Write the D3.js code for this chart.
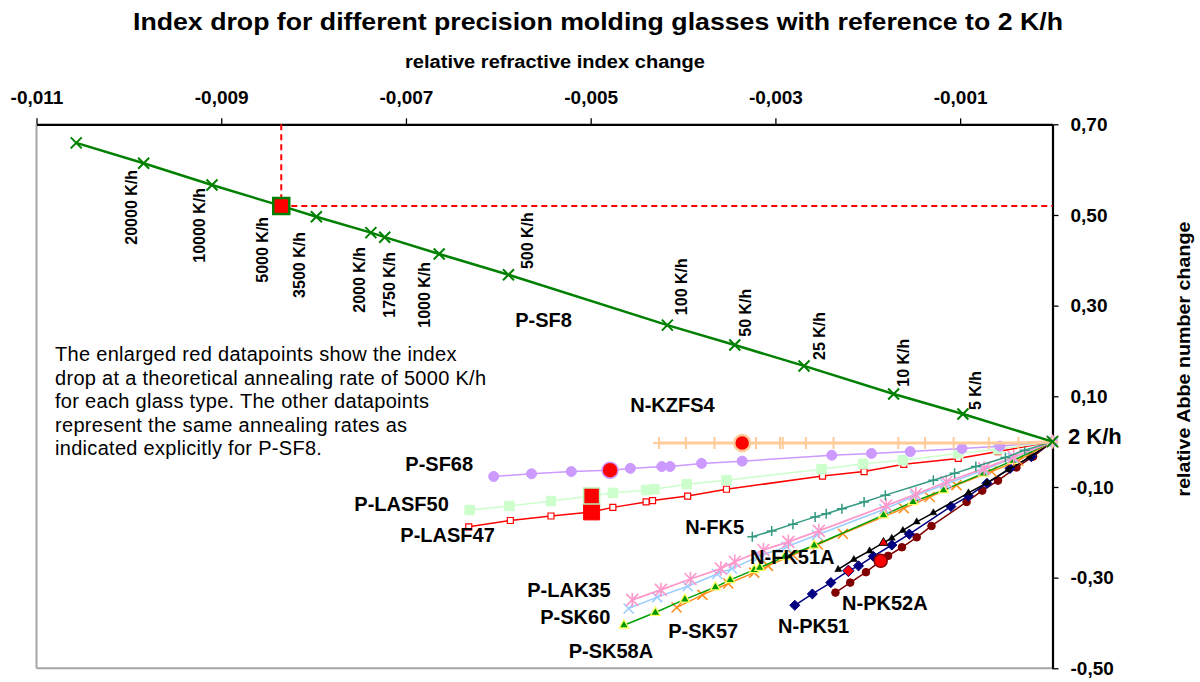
<!DOCTYPE html>
<html><head><meta charset="utf-8">
<script src="https://cdn.jsdelivr.net/npm/d3@7"></script>
<style>
body{margin:0;background:#fff}
svg{display:block}
text{font-family:"Liberation Sans",Arial,Helvetica,sans-serif}
</style>
</head><body>
<svg id="c" width="1200" height="682"></svg>
<script>
// ---------------- DATA ----------------
const xTicks = [-0.011, -0.009, -0.007, -0.005, -0.003, -0.001];
const yTicks = [0.7, 0.5, 0.3, 0.1, -0.1, -0.3, -0.5];
const rateLabels = ["", "20000 K/h", "10000 K/h", "5000 K/h", "3500 K/h", "2000 K/h", "1750 K/h", "1000 K/h", "500 K/h", "100 K/h", "50 K/h", "25 K/h", "10 K/h", "5 K/h", ""];

const pSF8_dn = [-0.01057,-0.00984,-0.00910,-0.00835,-0.00797,-0.00738,-0.00723,-0.00664,-0.00589,-0.00417,-0.00344,-0.00269,-0.00172,-0.00097,0];
const pSF8_dv = [0.659,0.614,0.566,0.520,0.496,0.461,0.451,0.414,0.368,0.257,0.213,0.167,0.105,0.061,0];

const nKZFS4_dn = [-0.00426,-0.00397,-0.00366,-0.00336,-0.00321,-0.00295,-0.00292,-0.00267,-0.00237,-0.00167,-0.00138,-0.00107,-0.00069,-0.00037,0];
const nKZFS4_dv = [-0.003,-0.003,-0.003,-0.003,-0.003,-0.003,-0.003,-0.003,-0.003,-0.003,-0.003,-0.003,-0.003,-0.003,0];

const pSF68_dn = [-0.00605,-0.00564,-0.00521,-0.00479,-0.00457,-0.00423,-0.00414,-0.00380,-0.00336,-0.00239,-0.00196,-0.00154,-0.00098,-0.00057,0];
const pSF68_dv = [-0.077,-0.071,-0.066,-0.063,-0.059,-0.055,-0.055,-0.048,-0.043,-0.030,-0.026,-0.022,-0.015,-0.010,0];

const pLASF50_dn = [-0.00631,-0.00588,-0.00543,-0.00499,-0.00476,-0.00440,-0.00431,-0.00396,-0.00353,-0.00250,-0.00205,-0.00162,-0.00102,-0.00059,0];
const pLASF50_dv = [-0.151,-0.142,-0.131,-0.120,-0.113,-0.107,-0.105,-0.094,-0.085,-0.061,-0.049,-0.041,-0.026,-0.017,0];

const pLASF47_dn = [-0.00632,-0.00587,-0.00543,-0.00499,-0.00476,-0.00440,-0.00433,-0.00395,-0.00353,-0.00249,-0.00204,-0.00161,-0.00102,-0.00059,0];
const pLASF47_dv = [-0.188,-0.174,-0.164,-0.155,-0.145,-0.133,-0.130,-0.120,-0.105,-0.076,-0.066,-0.050,-0.037,-0.022,0];

const nFK5_dn = [-0.00325,-0.00304,-0.00281,-0.00257,-0.00245,-0.00228,-0.00204,-0.00181,-0.00129,-0.00106,-0.00083,-0.00051,-0.00030,0];
const nFK5_dv = [-0.210,-0.197,-0.182,-0.166,-0.159,-0.148,-0.133,-0.118,-0.085,-0.070,-0.055,-0.035,-0.019,0];

const pLAK35_dn = [-0.00455,-0.00424,-0.00392,-0.00359,-0.00344,-0.00313,-0.00286,-0.00253,-0.00180,-0.00148,-0.00115,-0.00074,-0.00042,0];
const pLAK35_dv = [-0.349,-0.327,-0.303,-0.280,-0.265,-0.239,-0.221,-0.197,-0.141,-0.116,-0.089,-0.059,-0.034,0];

const pSK60_dn = [-0.00459,-0.00428,-0.00395,-0.00363,-0.00347,-0.00317,-0.00288,-0.00255,-0.00182,-0.00149,-0.00116,-0.00075,-0.00043,0];
const pSK60_dv = [-0.368,-0.343,-0.319,-0.292,-0.280,-0.252,-0.232,-0.206,-0.149,-0.120,-0.094,-0.063,-0.036,0];

const pSK58A_dn = [-0.00464,-0.00430,-0.00398,-0.00365,-0.00349,-0.00323,-0.00317,-0.00290,-0.00258,-0.00183,-0.00151,-0.00118,-0.00075,-0.00043,0];
const pSK58A_dv = [-0.405,-0.377,-0.348,-0.321,-0.305,-0.283,-0.278,-0.254,-0.229,-0.162,-0.133,-0.107,-0.070,-0.042,0];

const pSK57_dn = [-0.00407,-0.00379,-0.00351,-0.00323,-0.00308,-0.00281,-0.00254,-0.00227,-0.00161,-0.00133,-0.00104,-0.00066,-0.00037,0];
const pSK57_dv = [-0.366,-0.338,-0.313,-0.289,-0.274,-0.250,-0.227,-0.203,-0.147,-0.122,-0.096,-0.066,-0.042,0];

const nFK51A_dn = [-0.00232,-0.00215,-0.00198,-0.00183,-0.00174,-0.00162,-0.00147,-0.00129,-0.00091,-0.00071,-0.00048,-0.00025,0];
const nFK51A_dv = [-0.282,-0.260,-0.241,-0.223,-0.213,-0.196,-0.177,-0.157,-0.113,-0.091,-0.062,-0.034,0];

const nPK51_dn = [-0.00279,-0.00260,-0.00240,-0.00221,-0.00210,-0.00194,-0.00174,-0.00155,-0.00110,-0.00091,-0.00071,-0.00046,-0.00023,0];
const nPK51_dv = [-0.361,-0.336,-0.311,-0.285,-0.274,-0.253,-0.228,-0.204,-0.143,-0.120,-0.092,-0.059,-0.033,0];

const nPK52A_dn = [-0.00235,-0.00219,-0.00202,-0.00186,-0.00178,-0.00163,-0.00147,-0.00131,-0.00093,-0.00076,-0.00059,-0.00039,-0.00021,0];
const nPK52A_dv = [-0.333,-0.311,-0.288,-0.263,-0.252,-0.233,-0.211,-0.186,-0.133,-0.108,-0.086,-0.057,-0.033,0];

// glass names and label anchors (data units)
const glassNames = ["P-SF8","N-KZFS4","P-SF68","P-LASF50","P-LASF47","N-FK5","N-FK51A","P-LAK35","P-SK60","P-SK58A","P-SK57","N-PK51","N-PK52A"];
const labelAtX = [-0.005817,-0.004572,-0.007007,-0.007559,-0.007061,-0.003977,-0.003274,-0.005687,-0.005546,-0.005238,-0.004161,-0.002971,-0.002278];
const labelAtY = [0.253,0.065,-0.064,-0.152,-0.2215,-0.204,-0.271,-0.343,-0.402,-0.477,-0.433,-0.422,-0.3715];

const noteLines = ["The enlarged red datapoints show the index","drop at a theoretical annealing rate of 5000 K/h","for each glass type. The other datapoints","represent the same annealing rates as","indicated explicitly for P-SF8."];

// ---------------- LAYOUT ----------------
const svg = d3.select("#c");
const L = 36.5, R = 1052.5, T = 124.3, B = 668.3;
const x = d3.scaleLinear().domain([-0.011, 0]).range([L, R]);
const y = d3.scaleLinear().domain([-0.5, 0.7]).range([B, T]);
const loc = d3.formatLocale({decimal:",", thousands:".", grouping:[3], currency:["",""], minus:"-"});
const fx = loc.format(".3f"), fy = loc.format(".2f");

// frame (gray left / bottom)
svg.append("line").attr("x1",L).attr("x2",L).attr("y1",T).attr("y2",B).attr("stroke","#a6a6a6").attr("stroke-width",2);
svg.append("line").attr("x1",L).attr("x2",R).attr("y1",B).attr("y2",B).attr("stroke","#a6a6a6").attr("stroke-width",2);

// top axis
const gx = svg.append("g").attr("transform",`translate(0,${T})`)
  .call(d3.axisTop(x).tickValues(xTicks).tickFormat(fx).tickSizeInner(6).tickSizeOuter(0).tickPadding(14));
gx.select(".domain").attr("stroke","#000").attr("stroke-width",2.2);
gx.selectAll(".tick line").attr("stroke","#000").attr("stroke-width",1.3);
gx.selectAll(".tick text").attr("font-size",19).attr("font-weight","bold").attr("fill","#000")
  .attr("font-family",'"Liberation Sans",Arial,sans-serif');

// right axis
const gy = svg.append("g").attr("transform",`translate(${R},0)`)
  .call(d3.axisRight(y).tickValues(yTicks).tickFormat(fy).tickSizeInner(6).tickSizeOuter(0).tickPadding(12));
gy.select(".domain").attr("stroke","#000").attr("stroke-width",2.2);
gy.selectAll(".tick line").attr("stroke","#000").attr("stroke-width",1.3);
gy.selectAll(".tick text").attr("font-size",19).attr("font-weight","bold").attr("fill","#000")
  .attr("font-family",'"Liberation Sans",Arial,sans-serif');

// titles
svg.append("text").attr("x",598).attr("y",30).attr("text-anchor","middle")
  .attr("font-size",24).attr("font-weight","bold").attr("textLength",930).attr("lengthAdjust","spacingAndGlyphs")
  .text("Index drop for different precision molding glasses with reference to 2 K/h");
svg.append("text").attr("x",555).attr("y",68).attr("text-anchor","middle")
  .attr("font-size",18).attr("font-weight","bold").attr("textLength",300).attr("lengthAdjust","spacingAndGlyphs")
  .text("relative refractive index change");
svg.append("text").attr("transform","translate(1190,359) rotate(-90)").attr("text-anchor","middle")
  .attr("font-size",18).attr("font-weight","bold").attr("textLength",275).attr("lengthAdjust","spacingAndGlyphs")
  .text("relative Abbe number change");

// annotation
const note = svg.append("text").attr("x",55).attr("y",361).attr("font-size",20).attr("letter-spacing",0.3);
noteLines.forEach((t,i)=> note.append("tspan").attr("x",55).attr("dy", i===0?0:23.5).text(t));

// red dashed crosshair at 5000 K/h on P-SF8
const hx = x(pSF8_dn[3]), hy = y(pSF8_dv[3]);
svg.append("line").attr("x1",hx).attr("x2",hx).attr("y1",T).attr("y2",hy).attr("stroke","#ff0000").attr("stroke-width",2).attr("stroke-dasharray","6,4");
svg.append("line").attr("x1",hx).attr("x2",R).attr("y1",hy).attr("y2",hy).attr("stroke","#ff0000").attr("stroke-width",2).attr("stroke-dasharray","6,4");

// ---------------- SERIES ----------------
const series = [
  {dn:nPK52A_dn, dv:nPK52A_dv, color:"#800000", lw:1.5, m:"circle", ms:3.8, fill:"#800000", stroke:"#800000", sw:1, hl:{shape:"circle", s:6.5, stroke:"#800000", sw:1.5}},
  {dn:nPK51_dn, dv:nPK51_dv, color:"#000080", lw:1.5, m:"diamond", ms:7, fill:"#000080", stroke:"#000080", sw:1, hl:{shape:"diamond", s:8, stroke:"#000080", sw:1}},
  {dn:nFK51A_dn, dv:nFK51A_dv, color:"#000000", lw:1.5, m:"triangle", ms:7, fill:"#000000", stroke:"#000000", sw:0.5, hl:{shape:"triangle", s:9, stroke:"#000000", sw:1}},
  {dn:pSK57_dn, dv:pSK57_dv, color:"#ff8c1a", lw:1.5, m:"x", ms:5, fill:"none", stroke:"#ff8c1a", sw:1.5},
  {dn:pSK58A_dn, dv:pSK58A_dv, color:"#00a000", lw:1.5, m:"triangle", ms:9.5, fill:"#009900", stroke:"#ffff66", sw:1.3},
  {dn:pSK60_dn, dv:pSK60_dv, color:"#99ccff", lw:1.5, m:"x", ms:5, fill:"none", stroke:"#99ccff", sw:1.5},
  {dn:pLAK35_dn, dv:pLAK35_dv, color:"#ff99cc", lw:1.8, m:"asterisk", ms:6, fill:"none", stroke:"#ff99cc", sw:1.6},
  {dn:nFK5_dn, dv:nFK5_dv, color:"#339980", lw:1.5, m:"plus", ms:5, fill:"none", stroke:"#339980", sw:1.5},
  {dn:pLASF47_dn, dv:pLASF47_dv, color:"#ff0000", lw:1.5, m:"square", ms:6, fill:"#ffffff", stroke:"#ff0000", sw:1.2, hl:{shape:"square", s:16, stroke:"#ff0000", sw:1}},
  {dn:pLASF50_dn, dv:pLASF50_dv, color:"#ccffcc", lw:1.5, m:"square", ms:9.5, fill:"#ccffcc", stroke:"#ccffcc", sw:1, hl:{shape:"square", s:16, stroke:"#b8f0b8", sw:1.5}},
  {dn:pSF68_dn, dv:pSF68_dv, color:"#cc99ff", lw:1.5, m:"circle", ms:5, fill:"#cc99ff", stroke:"#cc99ff", sw:1, hl:{shape:"circle", s:8, stroke:"#cc99ff", sw:1.5}},
  {dn:nKZFS4_dn, dv:nKZFS4_dv, color:"#ffcc99", lw:3, m:"plusTall", ms:6, fill:"none", stroke:"#ffcc99", sw:2, hl:{shape:"circle", s:8, stroke:"#ffcc99", sw:2.5}},
  {dn:pSF8_dn, dv:pSF8_dv, color:"#008000", lw:2.5, m:"x", ms:5.5, fill:"none", stroke:"#008000", sw:2, hl:{shape:"square", s:16, stroke:"#008000", sw:2.5}}
];

function markerPath(shape, s){
  switch(shape){
    case "x": return `M${-s},${-s}L${s},${s}M${-s},${s}L${s},${-s}`;
    case "plus": return `M${-s},0L${s},0M0,${-s}L0,${s}`;
    case "plusTall": return `M${-s},0L${s},0M0,${-s}L0,${s}`;
    case "asterisk": return `M${-s},${-s}L${s},${s}M${-s},${s}L${s},${-s}M0,${-s*1.2}L0,${s*1.2}`;
    case "circle": return d3.symbol(d3.symbolCircle, Math.PI*s*s)();
    case "square": return d3.symbol(d3.symbolSquare, s*s)();
    case "triangle": return d3.symbol(d3.symbolTriangle, Math.sqrt(3)/4*s*s)();
    case "diamond": return `M0,${-s*0.72}L${s*0.72},0L0,${s*0.72}L${-s*0.72},0Z`;
  }
}

const line = d3.line();
series.forEach(sr => {
  const pts = sr.dn.map((v,i)=>[x(v), y(sr.dv[i])]);
  svg.append("path").attr("d", line(pts)).attr("fill","none").attr("stroke",sr.color).attr("stroke-width",sr.lw).attr("stroke-linejoin","round");
  const g = svg.append("g");
  pts.forEach((p,i)=>{
    if (sr.hl && i===3) return;
    let tr = `translate(${p[0]},${p[1]})`;
    if (sr.m==="triangle" && i===0 && sr.color==="#000000") {
      const ang = Math.atan2(p[1]-pts[1][1], p[0]-pts[1][0])*180/Math.PI;
      tr += ` rotate(${ang+90})`;
    }
    g.append("path").attr("transform",tr).attr("d", markerPath(sr.m, sr.ms))
      .attr("fill", sr.fill).attr("stroke", sr.stroke).attr("stroke-width", sr.sw);
  });
});
// highlighted 5000 K/h points
series.forEach(sr => {
  if (!sr.hl) return;
  const px = x(sr.dn[3]), py = y(sr.dv[3]);
  svg.append("path").attr("transform",`translate(${px},${py})`).attr("d", markerPath(sr.hl.shape, sr.hl.s))
    .attr("fill","#ff0000").attr("stroke",sr.hl.stroke).attr("stroke-width",sr.hl.sw);
});

// rate labels on P-SF8 (offsets are layout)
const rateOff = [null,[-6.8,6.7,"end"],[-7,3,"end"],[-13.5,11,"end"],[-11.3,15.3,"end"],[-6,14.3,"end"],[10.7,14.7,"end"],[-9.6,8,"end"],
  [25,-5.7,"start"],[19.7,-10,"start"],[16.7,-8.3,"start"],[20.7,-6,"start"],[15.7,-7.3,"start"],[17.7,-4,"start"],null];
rateLabels.forEach((t,i)=>{
  if (!t) return;
  const o = rateOff[i];
  const px = x(pSF8_dn[i]) + o[0], py = y(pSF8_dv[i]) + o[1];
  svg.append("text").attr("transform",`translate(${px},${py}) rotate(-90)`).attr("text-anchor",o[2])
    .attr("font-size",16).attr("font-weight","bold").text(t);
});

// glass labels
glassNames.forEach((n,i)=>{
  svg.append("text").attr("x",x(labelAtX[i])).attr("y",y(labelAtY[i])).attr("font-size",20).attr("font-weight","bold").text(n);
});
svg.append("text").attr("x",x(0)+15.5).attr("y",444).attr("font-size",22).attr("font-weight","bold").text("2 K/h");
</script>
</body></html>
